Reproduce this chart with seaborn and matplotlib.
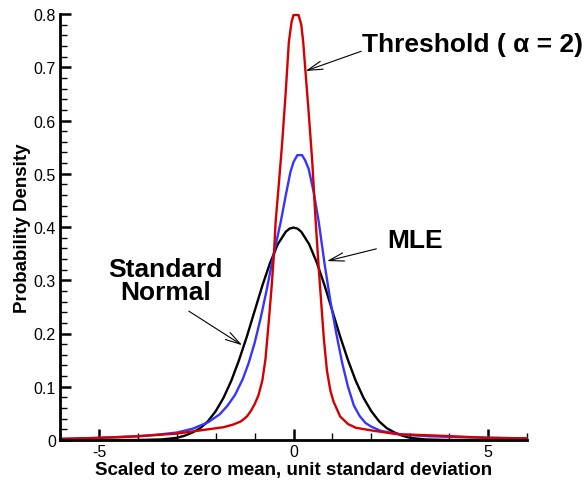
import matplotlib
matplotlib.use("Agg")
import matplotlib.pyplot as plt
import seaborn as sns
import pandas as pd
from matplotlib.ticker import MultipleLocator, FixedLocator

# ---- data ----
normal_x = [-6, -5, -4, -3.4, -3.0, -2.8, -2.6, -2.4, -2.2, -2.0, -1.8, -1.6, -1.4, -1.2, -1.0,
            -0.8, -0.6, -0.4, -0.2, -0.1, 0.0, 0.1, 0.2, 0.4, 0.6, 0.8, 1.0, 1.2, 1.4, 1.6, 1.8,
            2.0, 2.2, 2.4, 2.6, 2.8, 3.0, 3.4, 4, 5, 6]
normal_y = [0.0, 0.0, 0.0, 0.001, 0.004, 0.008, 0.014, 0.022, 0.035, 0.054, 0.079, 0.111, 0.150,
            0.194, 0.242, 0.290, 0.333, 0.368, 0.391, 0.397, 0.399, 0.397, 0.391, 0.368, 0.333,
            0.290, 0.242, 0.194, 0.150, 0.111, 0.079, 0.054, 0.035, 0.022, 0.014, 0.008, 0.004,
            0.001, 0.0, 0.0, 0.0]

mle_x = [-6, -5, -4, -3.5, -3.0, -2.6, -2.2, -1.9, -1.7, -1.5, -1.3, -1.15, -1.0, -0.85, -0.7,
         -0.5, -0.33, -0.2, -0.08, 0.0, 0.1, 0.22, 0.3, 0.39, 0.52, 0.65, 0.8, 0.95, 1.1, 1.25,
         1.4, 1.55, 1.7, 1.85, 2.0, 2.25, 2.8, 3.5, 4.5, 6]
mle_y = [0.002, 0.004, 0.007, 0.010, 0.014, 0.021, 0.033, 0.048, 0.064, 0.085, 0.115, 0.145,
         0.182, 0.227, 0.278, 0.352, 0.409, 0.459, 0.503, 0.522, 0.535, 0.535, 0.525, 0.509,
         0.465, 0.409, 0.330, 0.260, 0.200, 0.145, 0.100, 0.065, 0.045, 0.032, 0.025, 0.017,
         0.010, 0.007, 0.005, 0.003]

thr_x = [-6, -5, -4, -3.0, -2.4, -1.8, -1.55, -1.35, -1.2, -1.1, -1.0, -0.9, -0.8, -0.72,
         -0.63, -0.56, -0.5, -0.46, -0.38, -0.29, -0.2, -0.12, -0.05, 0.0, 0.13, 0.2, 0.25,
         0.31, 0.39, 0.48, 0.57, 0.65, 0.72, 0.78, 0.86, 0.95, 1.03, 1.2, 1.4, 1.6, 2.0,
         2.66, 3.77, 5, 6]
thr_y = [0.002, 0.004, 0.007, 0.012, 0.018, 0.024, 0.029, 0.035, 0.044, 0.054, 0.067, 0.084,
         0.112, 0.152, 0.227, 0.290, 0.352, 0.409, 0.478, 0.559, 0.653, 0.747, 0.785, 0.798,
         0.798, 0.780, 0.747, 0.690, 0.615, 0.525, 0.410, 0.321, 0.250, 0.190, 0.130, 0.092,
         0.072, 0.044, 0.030, 0.023, 0.018, 0.011, 0.008, 0.004, 0.003]

x_ticks = [-5, 0, 5]
y_ticks = [0, 0.1, 0.2, 0.3, 0.4, 0.5, 0.6, 0.7, 0.8]

sns.set_theme(style="ticks")
plt.rcParams["font.family"] = ["Liberation Sans", "DejaVu Sans"]
plt.rcParams["axes.unicode_minus"] = False
plt.rcParams["text.color"] = "black"
plt.rcParams["axes.labelcolor"] = "black"
plt.rcParams["xtick.color"] = "black"
plt.rcParams["ytick.color"] = "black"

fig = plt.figure(figsize=(5.86, 4.85), dpi=100)
ax = fig.add_axes([60 / 586, 44 / 485, 467 / 586, 426 / 485])

df_n = pd.DataFrame({"x": normal_x, "y": normal_y})
df_m = pd.DataFrame({"x": mle_x, "y": mle_y})
df_t = pd.DataFrame({"x": thr_x, "y": thr_y})

sns.lineplot(data=df_n, x="x", y="y", ax=ax, color="black", lw=1.7, sort=False, clip_on=False)
sns.lineplot(data=df_m, x="x", y="y", ax=ax, color="#3535ff", lw=1.7, sort=False, clip_on=False)
sns.lineplot(data=df_t, x="x", y="y", ax=ax, color="#d40000", lw=1.7, sort=False, clip_on=False)

ax.set_xlim(-6, 6)
ax.set_ylim(0, 0.8)
ax.xaxis.set_major_locator(FixedLocator(x_ticks))
ax.xaxis.set_minor_locator(MultipleLocator(1))
ax.yaxis.set_major_locator(FixedLocator(y_ticks))
ax.yaxis.set_minor_locator(MultipleLocator(0.02))
ax.set_xticklabels([str(v) for v in x_ticks])
ax.set_yticklabels(["0" if v == 0 else f"{v:.1f}" for v in y_ticks])

sns.despine(ax=ax)
for s in ["left", "bottom"]:
    ax.spines[s].set_linewidth(2.0)
    ax.spines[s].set_color("black")
ax.tick_params(which="major", direction="in", length=8, width=1.8, labelsize=11.5,
               colors="black", pad=3)
ax.tick_params(which="minor", direction="in", length=5, width=1.0, colors="black")

ax.set_xlabel("Scaled to zero mean, unit standard deviation", fontsize=13.5,
              fontweight="bold", labelpad=1, color="black")
ax.set_ylabel("Probability Density", fontsize=13.5, fontweight="bold", labelpad=2,
              color="black")

arrow = dict(arrowstyle="->,head_length=0.9,head_width=0.25", color="black", lw=0.8,
             shrinkA=0, shrinkB=0)
ax.text(1.77, 0.744, "Threshold ( α = 2)", fontsize=19, fontweight="bold",
        ha="left", va="center", color="black")
ax.annotate("", xy=(0.31, 0.693), xytext=(1.74, 0.73), arrowprops=arrow)
ax.text(2.41, 0.376, "MLE", fontsize=19, fontweight="bold", ha="left", va="center",
        color="black")
ax.annotate("", xy=(0.86, 0.336), xytext=(2.13, 0.359), arrowprops=arrow)
ax.text(-3.28, 0.30, "Standard\nNormal", fontsize=19, fontweight="bold", ha="center",
        va="center", linespacing=0.95, color="black")
ax.annotate("", xy=(-1.32, 0.178), xytext=(-2.69, 0.242), arrowprops=arrow)

fig.savefig("out.png", dpi=100)
